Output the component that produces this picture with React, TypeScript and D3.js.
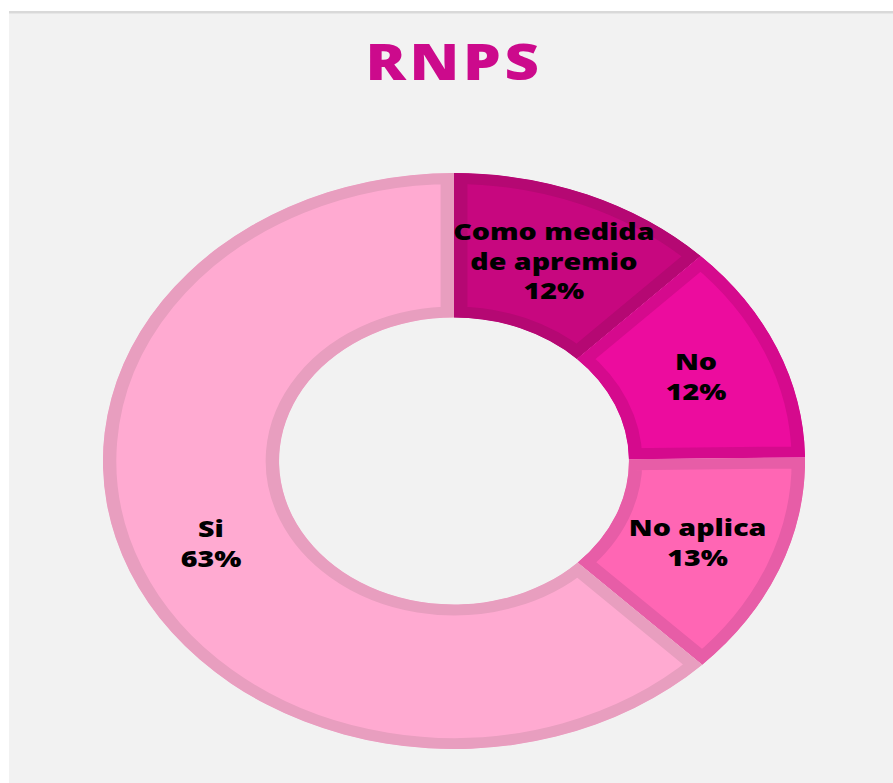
import React from "react";
import * as d3 from "d3";

const title = "RNPS";
const categories = ["Como medida de apremio", "No", "No aplica", "Si"];
const labelLines = [["Como medida", "de apremio"], ["No"], ["No aplica"], ["Si"]];
const values = [12.4, 12.4, 12.7, 62.5];
const fills = ["#C7077F", "#EC0C9E", "#FF66B4", "#FFAAD1"];
const borders = ["#B50873", "#D50A8D", "#E75DA7", "#E89EBF"];

const W = 893;
const H = 783;
const cx = 454;
const cy = 461;
const sx = 1.219;
const outerR = 288;
const innerR = 143.5;
const border = 11;
const lineH = 29.5;
const fontStack = "'Open Sans', 'DejaVu Sans', sans-serif";

export default function App() {
  const total = d3.sum(values);
  const pie = d3
    .pie<number>()
    .sort(null)
    .value((d) => d);
  const arcs = pie(values);
  const arc = d3
    .arc<d3.PieArcDatum<number>>()
    .innerRadius(innerR)
    .outerRadius(outerR);

  return (
    <svg
      width={W}
      height={H}
      style={{ position: "absolute", left: 0, top: 0, display: "block" }}
    >
      <rect x={0} y={0} width={W} height={H} fill="#ffffff" />
      <rect x={9} y={11} width={W - 9} height={H - 11} fill="#F2F2F2" />
      <rect x={9} y={11} width={W - 9} height={2.5} fill="#D9D9D9" />
      <g transform={`translate(${cx},80) scale(${sx},1)`}>
        <text
          textAnchor="middle"
          fontFamily={fontStack}
          fontWeight={800}
          fontSize={49}
          letterSpacing={3}
          fill="#CC0A8C"
        >
          {title}
        </text>
      </g>
      <defs>
        {arcs.map((a, i) => (
          <clipPath id={`clip-${i}`} key={i}>
            <path d={arc(a) || ""} />
          </clipPath>
        ))}
      </defs>
      <g transform={`translate(${cx},${cy}) scale(${sx},1)`}>
        {arcs.map((a, i) => (
          <path
            key={categories[i]}
            d={arc(a) || ""}
            fill={fills[i]}
            stroke={borders[i]}
            strokeWidth={border * 2}
            clipPath={`url(#clip-${i})`}
          />
        ))}
        {arcs.map((a, i) => {
          const [x, y] = arc.centroid(a);
          const lines = [
            ...labelLines[i],
            `${Math.round((values[i] / total) * 100)}%`,
          ];
          const n = lines.length;
          return (
            <g key={`l-${i}`}>
              {lines.map((ln, j) => (
                <text
                  key={j}
                  x={x}
                  y={y + (j - (n - 1) / 2) * lineH + 8.5}
                  textAnchor="middle"
                  fontFamily={fontStack}
                  fontWeight={800}
                  fontSize={23.5}
                  fill="#000000"
                >
                  {ln}
                </text>
              ))}
            </g>
          );
        })}
      </g>
    </svg>
  );
}
